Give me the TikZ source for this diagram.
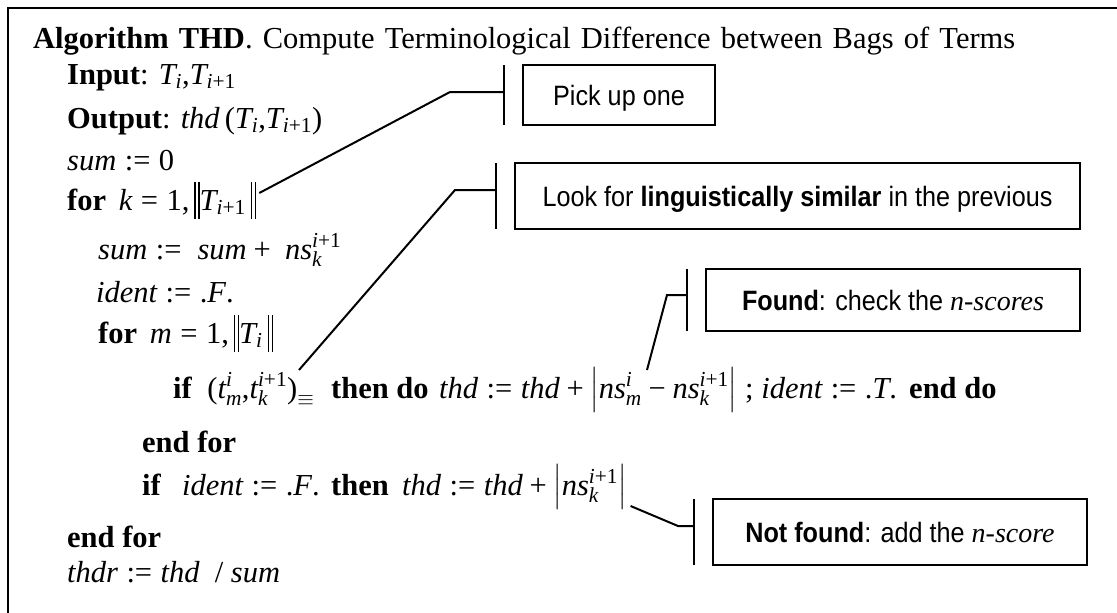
\RequirePackage{fix-cm}
\documentclass[tikz,border=0pt]{standalone}
\usepackage{amsmath}
\usepackage{fontspec}
\usetikzlibrary{calc}
\setmainfont{Liberation Serif}
\newfontfamily\boxfont{Liberation Sans}[FakeStretch=0.9]
\newcommand\I[1]{\text{\normalfont\itshape #1}}
\newcommand\Rm[1]{\text{\normalfont #1}}
\newcommand\asg{\mathrel{\Rm{:=}}}
\newcommand\eqs{\mathrel{\Rm{=}}}
\newcommand\pls{\mathbin{\Rm{+}}}
\newcommand\mns{\mathbin{\Rm{−}}}
\newcommand\dbar{\mbox{\rule[-9pt]{1.3pt}{37pt}\hspace{2.6pt}\rule[-9pt]{1.3pt}{37pt}}}
\tikzset{
  conn/.style={line width=2pt},
  txt/.style={anchor=base west, inner sep=0pt, font=\fontsize{30.5}{36}\selectfont},
  callout/.style={draw, line width=2pt, inner sep=0pt, font=\boxfont\fontsize{28}{32}\selectfont,
    text height=20pt, text depth=0pt, align=center},
}
\begin{document}
\begin{tikzpicture}[x=1pt,y=-1pt]
\useasboundingbox (0,0) rectangle (1117,613);
\fill[white] (0,0) rectangle (1117,613);
% frame
\coordinate (fbl) at (8,613); \coordinate (ftl) at (8,8); \coordinate (ftr) at (1117,8);
\draw[line width=2.6pt] (fbl) -- (ftl) -- (ftr);
% algorithm text
\node[txt] (title) at (33,48) {\makebox[982pt][s]{\textbf{Algorithm THD}. Compute Terminological Difference between Bags of Terms}};
\node[txt] (inp) at (67,84) {\textbf{Input}: $\I{T}_{\I{i}}\Rm{,}\I{T}_{\I{i}\Rm{+1}}$};
\node[txt] (outp) at (67,128) {\textbf{Output}: $\I{thd}\,\Rm{(}\I{T}_{\I{i}}\Rm{,}\I{T}_{\I{i}\Rm{+1}}\Rm{)}$};
\node[txt] (s0) at (67,170) {$\I{sum}\asg\Rm{0}$};
\node[txt] (fork) at (67,210) {\textbf{for}\ \,$\I{k}\eqs\Rm{1,}\,\dbar\I{T}_{\I{i}\Rm{+1}}\,\dbar$};
\node[txt] (sumk) at (98,259) {$\I{sum}\asg\ \I{sum}\pls\ \I{ns}^{\I{i}\Rm{+1}}_{\I{k}}$};
\node[txt] (idf) at (96,302) {$\I{ident}\asg\Rm{.}\I{F}\Rm{.}$};
\node[txt] (form) at (98,343) {\textbf{for}\ \,$\I{m}\eqs\Rm{1,}\,\dbar\I{T}_{\I{i}}\,\dbar$};
\node[txt] (if1) at (173,398) {\textbf{if}\ \ $\Rm{(}\I{t}^{\I{i}}_{\I{m}}\Rm{,}\I{t}^{\I{i}\Rm{+1}}_{\I{k}}\Rm{)}_{\equiv}$};
\node[txt] (thendo) at (331,398) {\textbf{then do}};
\node[txt] (upd) at (439,398) {$\I{thd}\asg\I{thd}\pls\left|\I{ns}^{\I{i}}_{\I{m}}\mns\I{ns}^{\I{i}\Rm{+1}}_{\I{k}}\right|$};
\node[txt] (semi) at (745,398) {$\Rm{;}\ \I{ident}\asg\Rm{.}\I{T}\Rm{.}$};
\node[txt] (enddo) at (909,398) {\textbf{end do}};
\node[txt] (endfor1) at (142,452) {\textbf{end for}};
\node[txt] (if2) at (142,495) {\textbf{if}};
\node[txt] (idf2) at (182,495) {$\I{ident}\asg\Rm{.}\I{F}\Rm{.}$};
\node[txt] (then2) at (331,495) {\textbf{then}};
\node[txt] (upd2) at (402,495) {$\I{thd}\asg\I{thd}\pls\left|\I{ns}^{\I{i}\Rm{+1}}_{\I{k}}\right|$};
\node[txt] (endfor2) at (67,547) {\textbf{end for}};
\node[txt] (thdr) at (67,582) {$\I{thdr}\asg\I{thd}\ \ \Rm{/}\ \I{sum}$};
% callout boxes
\node[callout, minimum width=192pt, minimum height=60pt] (pick) at (619,95) {Pick up one};
\node[callout, minimum width=565pt, minimum height=66pt] (look) at (797.5,196) {Look for \textbf{linguistically similar} in the previous};
\node[callout, minimum width=374pt, minimum height=62pt] (found) at (893,300) {\textbf{Found}: check the {\rmfamily\itshape n-scores}};
\node[callout, minimum width=374pt, minimum height=66pt] (nfound) at (900,532) {\textbf{Not found}: add the {\rmfamily\itshape n-score}};
% bars and leaders
\coordinate (pb1) at (504,65); \coordinate (pb2) at (504,125);
\coordinate (pe) at ($(fork.base east)+(3,-17)$); \coordinate (pk) at (450,92); \coordinate (pm) at (504,92);
\draw[conn] (pb1) -- (pb2);
\draw[conn] (pe) -- (pk) -- (pm);
\coordinate (lb1) at (496,163); \coordinate (lb2) at (496,229);
\coordinate (le) at (299,370); \coordinate (lk) at (455,190); \coordinate (lm) at (496,190);
\draw[conn] (lb1) -- (lb2);
\draw[conn] (le) -- (lk) -- (lm);
\coordinate (fb1) at (687,269); \coordinate (fb2) at (687,331);
\coordinate (fe) at (647,370); \coordinate (fk) at (667,295); \coordinate (fm) at (687,295);
\draw[conn] (fb1) -- (fb2);
\draw[conn] (fe) -- (fk) -- (fm);
\coordinate (nb1) at (694,499); \coordinate (nb2) at (694,565);
\coordinate (ne) at ($(upd2.base east)+(4,11)$); \coordinate (nk) at (678,526); \coordinate (nm) at (694,526);
\draw[conn] (nb1) -- (nb2);
\draw[conn] (ne) -- (nk) -- (nm);
\end{tikzpicture}
\end{document}
